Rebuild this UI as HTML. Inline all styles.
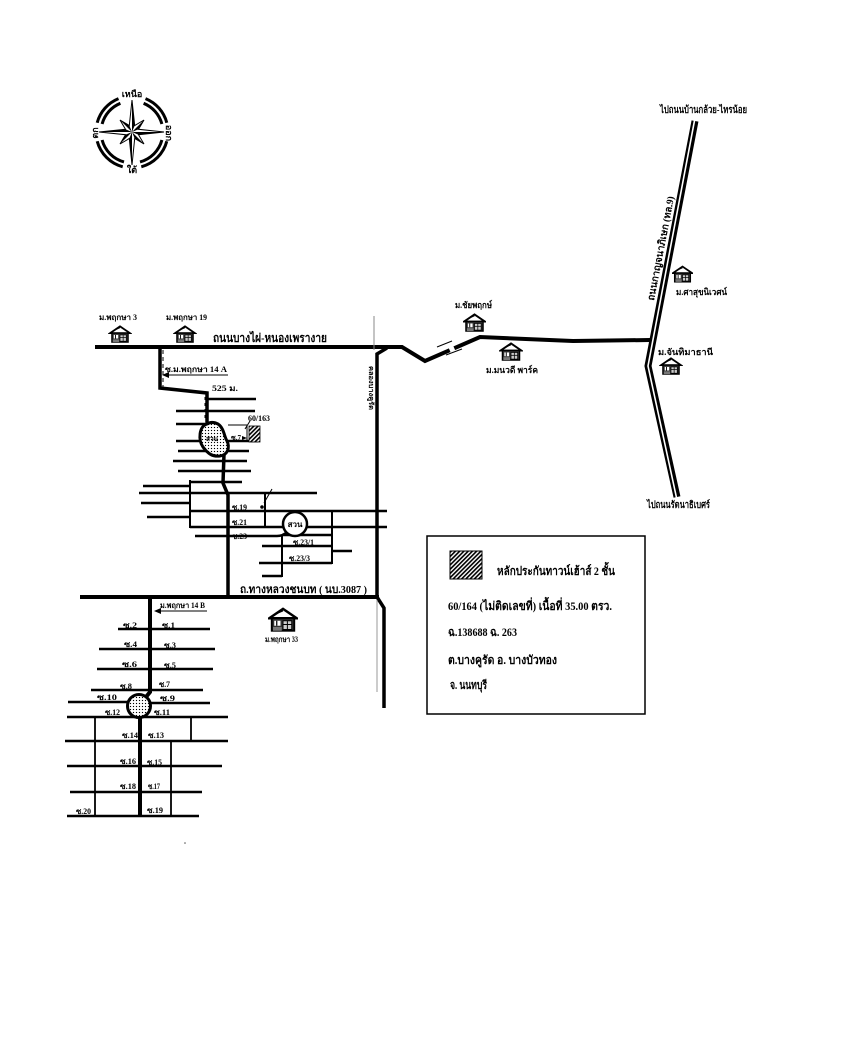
<!DOCTYPE html>
<html><head><meta charset="utf-8"><style>
html,body{margin:0;padding:0;background:#fff;}
svg{display:block;}
.t{font-family:"Liberation Serif","DejaVu Serif","Noto Serif CJK SC",serif;font-weight:bold;fill:#000;}
</style></head><body>
<svg width="850" height="1058" viewBox="0 0 850 1058" xmlns="http://www.w3.org/2000/svg">
<defs>
<pattern id="dots" width="3" height="3" patternUnits="userSpaceOnUse">
<rect width="3" height="3" fill="#fff"/><circle cx="1.5" cy="1.5" r="0.65" fill="#000"/>
</pattern>
<pattern id="hatch" width="3" height="3" patternUnits="userSpaceOnUse" patternTransform="rotate(45)">
<rect width="3" height="3" fill="#fff"/><rect width="1.6" height="3" fill="#000"/>
</pattern>
<symbol id="house" viewBox="0 0 24 20">
<polygon points="1,9 12,1.5 23,9" fill="#fff" stroke="#000" stroke-width="2"/>
<line x1="5" y1="6" x2="12" y2="3" stroke="#000" stroke-width="1"/>
<rect x="3" y="9" width="18" height="10" fill="#333" stroke="#000" stroke-width="1.5"/>
<rect x="5" y="11" width="5" height="4" fill="#fff"/>
<rect x="6.5" y="11" width="1" height="4" fill="#000"/>
<rect x="12" y="11" width="7" height="7" fill="#ccc" stroke="#000" stroke-width="0.8"/>
<line x1="12" y1="14" x2="19" y2="14" stroke="#000" stroke-width="0.8"/>
<line x1="15.5" y1="11" x2="15.5" y2="18" stroke="#000" stroke-width="0.8"/>
<rect x="4" y="16" width="7" height="3" fill="#777"/>
</symbol>
</defs>
<rect width="850" height="1058" fill="#fff"/>

<!-- Compass -->
<g fill="none" stroke="#000" stroke-width="3">
<path d="M145.5,98.6 A36,36 0 0 1 166.8,122.7"/>
<path d="M143.6,103.3 A31,31 0 0 1 161.9,124"/>
<path d="M166.8,141.3 A36,36 0 0 1 141.3,166.8"/>
<path d="M161.9,140 A31,31 0 0 1 140,161.9"/>
<path d="M122.7,166.8 A36,36 0 0 1 97.2,141.3"/>
<path d="M124,161.9 A31,31 0 0 1 102.1,140"/>
<path d="M97.2,122.7 A36,36 0 0 1 118.5,98.6"/>
<path d="M102.1,124 A31,31 0 0 1 120.4,103.3"/>
</g>
<polygon points="132,100 134.7,125.5 144,120 138.5,129.3 164,132 138.5,134.7 144,144 134.7,138.5 132,165 129.3,138.5 120,144 125.5,134.7 99,132 125.5,129.3 120,120 129.3,125.5" fill="#fff" stroke="#000" stroke-width="1"/>
<g fill="#000">
<polygon points="132,100 132,132 134.7,125.5"/>
<polygon points="164,132 132,132 138.5,134.7"/>
<polygon points="132,165 132,132 129.3,138.5"/>
<polygon points="99,132 132,132 125.5,129.3"/>
<polygon points="144,120 132,132 138.5,129.3"/>
<polygon points="144,144 132,132 134.7,138.5"/>
<polygon points="120,144 132,132 125.5,134.7"/>
<polygon points="120,120 132,132 129.3,125.5"/>
</g>
<text class="t" x="132" y="97" font-size="9" text-anchor="middle">เหนือ</text>
<text class="t" x="132" y="173" font-size="9" text-anchor="middle">ใต้</text>
<text class="t" font-size="9" text-anchor="middle" transform="translate(98,133) rotate(-90)">ตก</text>
<text class="t" font-size="9" text-anchor="middle" transform="translate(166,133) rotate(90)">ออก</text>

<!-- Main top road -->
<polyline points="95,347 402,347 425,361 480,337 573,341 650,340" fill="none" stroke="#000" stroke-width="4" stroke-linejoin="miter"/>
<rect x="448" y="340" width="5" height="12" fill="#fff" transform="rotate(-24 450 346)"/>
<line x1="437" y1="347" x2="452" y2="341" stroke="#000" stroke-width="1"/>
<line x1="446" y1="355" x2="462" y2="349" stroke="#000" stroke-width="1"/>
<text class="t" x="213" y="342" font-size="12" textLength="114" lengthAdjust="spacingAndGlyphs">ถนนบางไผ่-หนองเพรางาย</text>

<!-- Right double road -->
<polyline points="695,121 648,366 677,497" fill="none" stroke="#000" stroke-width="7" stroke-linejoin="miter"/>
<polyline points="695,118 648,366 677,500" fill="none" stroke="#fff" stroke-width="1.6" stroke-linejoin="miter"/>
<text class="t" x="660" y="113" font-size="10" textLength="87" lengthAdjust="spacingAndGlyphs">ไปถนนบ้านกล้วย-ไทรน้อย</text>
<text class="t" x="647" y="508" font-size="10" textLength="63" lengthAdjust="spacingAndGlyphs">ไปถนนรัตนาธิเบศร์</text>
<text class="t" font-size="10" text-anchor="middle" textLength="106" lengthAdjust="spacingAndGlyphs" transform="translate(664,249) rotate(-79)">ถนนกาญจนาภิเษก (ทล.9)</text>

<!-- Houses -->
<use href="#house" x="108" y="325" width="24" height="18"/>
<use href="#house" x="173" y="325" width="24" height="18"/>
<use href="#house" x="463" y="313" width="23" height="19"/>
<use href="#house" x="499" y="342" width="24" height="19"/>
<use href="#house" x="659" y="357" width="24" height="18"/>
<use href="#house" x="672" y="265" width="21" height="18"/>
<use href="#house" x="268" y="607" width="30" height="25"/>
<text class="t" x="99" y="320" font-size="8" textLength="38" lengthAdjust="spacingAndGlyphs">ม.พฤกษา 3</text>
<text class="t" x="166" y="320" font-size="8" textLength="41" lengthAdjust="spacingAndGlyphs">ม.พฤกษา 19</text>
<text class="t" x="455" y="308" font-size="9" textLength="37" lengthAdjust="spacingAndGlyphs">ม.ชัยพฤกษ์</text>
<text class="t" x="486" y="373" font-size="9" textLength="52" lengthAdjust="spacingAndGlyphs">ม.มนวดี พาร์ค</text>
<text class="t" x="658" y="355" font-size="9" textLength="55" lengthAdjust="spacingAndGlyphs">ม.จันทิมาธานี</text>
<text class="t" x="676" y="295" font-size="9" textLength="51" lengthAdjust="spacingAndGlyphs">ม.ศาสุขนิเวศน์</text>
<text class="t" x="265" y="642" font-size="8" textLength="33" lengthAdjust="spacingAndGlyphs">ม.พฤกษา 33</text>

<!-- Canal / vertical road -->
<line x1="374" y1="316" x2="374" y2="350" stroke="#888" stroke-width="1"/>
<polyline points="387,348 377,354 377,597 384,608 384,708" fill="none" stroke="#000" stroke-width="3.5"/>
<line x1="377" y1="600" x2="377" y2="692" stroke="#999" stroke-width="1"/>
<text class="t" font-size="7" text-anchor="middle" textLength="44" lengthAdjust="spacingAndGlyphs" transform="translate(369,388) rotate(90)">คลองบางคูรัด</text>

<!-- Top cluster -->
<g stroke="#000" stroke-width="2.5" fill="none">
<line x1="208" y1="399" x2="256" y2="399"/>
<line x1="176" y1="411" x2="255" y2="411"/>
<line x1="176" y1="424" x2="205" y2="424"/>
<line x1="176" y1="441" x2="258" y2="441"/>
<line x1="178" y1="451" x2="249" y2="451"/>
<line x1="173" y1="461" x2="247" y2="461"/>
<line x1="178" y1="471" x2="251" y2="471"/>
<line x1="190" y1="482" x2="242" y2="482"/>
<line x1="143" y1="486" x2="190" y2="486"/>
<line x1="139" y1="493" x2="317" y2="493"/>
<line x1="141" y1="503" x2="190" y2="503"/>
<line x1="190" y1="511" x2="387" y2="511"/>
<line x1="147" y1="517" x2="190" y2="517"/>
<line x1="190" y1="527" x2="283" y2="527"/>
<line x1="307" y1="527" x2="387" y2="527"/>
<path d="M195,536 L277,536 Q283,536 287,532"/>
<line x1="282" y1="535" x2="333" y2="535"/>
<line x1="262" y1="546" x2="332" y2="546"/>
<line x1="332" y1="551" x2="352" y2="551"/>
<line x1="259" y1="563" x2="332" y2="563"/>
<line x1="262" y1="576" x2="282" y2="576"/>
</g>
<g stroke="#000" stroke-width="2" fill="none">
<line x1="190" y1="480" x2="190" y2="528"/>
<line x1="265" y1="493" x2="265" y2="527"/>
<line x1="332" y1="511" x2="332" y2="564"/>
<line x1="282" y1="535" x2="282" y2="577"/>
</g>
<line x1="264" y1="503" x2="272" y2="489" stroke="#000" stroke-width="1"/>
<circle cx="262" cy="507" r="1.8" fill="#000"/>
<polyline points="160,347 160,388 207,393 207,426" fill="none" stroke="#000" stroke-width="3.5"/>
<polyline points="224,454 223,483 228,495 228,597" fill="none" stroke="#000" stroke-width="3.5"/>
<line x1="163" y1="350" x2="163" y2="388" stroke="#000" stroke-width="1" stroke-dasharray="4,3"/>
<line x1="165" y1="375" x2="228" y2="375" stroke="#000" stroke-width="1"/>
<polygon points="162,375 169,372 169,378" fill="#000"/>
<line x1="205" y1="397" x2="205" y2="418" stroke="#000" stroke-width="1" stroke-dasharray="3,3"/>
<line x1="228" y1="425" x2="247" y2="425" stroke="#000" stroke-width="1"/>
<line x1="247" y1="425" x2="247" y2="441" stroke="#000" stroke-width="1"/>
<line x1="250" y1="421" x2="245" y2="429" stroke="#000" stroke-width="1"/>
<rect x="249" y="426" width="11" height="16" fill="url(#hatch)" stroke="#000" stroke-width="0.8"/>
<path d="M207,424 C199,426 198,440 203,447 C208,454 213,457 220,456 C228,455 230,447 227,441 C224,436 224,428 218,424 C214,422 210,422 207,424 Z" fill="url(#dots)" stroke="#000" stroke-width="3"/>
<text class="t" x="206" y="441" font-size="6.5">สวน</text>
<text class="t" x="231" y="440" font-size="7">ซ.7</text>
<polygon points="247,438 242,436 242,440" fill="#000"/>
<text class="t" x="165" y="372" font-size="8" textLength="62" lengthAdjust="spacingAndGlyphs">ซ.ม.พฤกษา 14 A</text>
<text class="t" x="212" y="391" font-size="8" textLength="26" lengthAdjust="spacingAndGlyphs">525 ม.</text>
<text class="t" x="248" y="421" font-size="8" textLength="22" lengthAdjust="spacingAndGlyphs">60/163</text>
<circle cx="295" cy="524" r="12" fill="#fff" stroke="#000" stroke-width="2.5"/>
<text class="t" x="295" y="527" font-size="8" text-anchor="middle">สวน</text>
<text class="t" x="232" y="510" font-size="8" textLength="15" lengthAdjust="spacingAndGlyphs">ซ.19</text>
<text class="t" x="232" y="525" font-size="8" textLength="15" lengthAdjust="spacingAndGlyphs">ซ.21</text>
<text class="t" x="232" y="539" font-size="8" textLength="15" lengthAdjust="spacingAndGlyphs">ซ.23</text>
<text class="t" x="293" y="545" font-size="8" textLength="21" lengthAdjust="spacingAndGlyphs">ซ.23/1</text>
<text class="t" x="289" y="561" font-size="8" textLength="21" lengthAdjust="spacingAndGlyphs">ซ.23/3</text>

<!-- Bottom road -->
<line x1="80" y1="597" x2="379" y2="597" stroke="#000" stroke-width="4"/>
<text class="t" x="240" y="593" font-size="11" textLength="127" lengthAdjust="spacingAndGlyphs">ถ.ทางหลวงชนบท ( นบ.3087 )</text>

<!-- Bottom cluster -->
<g stroke="#000" stroke-width="2.5" fill="none">
<line x1="118" y1="629" x2="210" y2="629"/>
<line x1="99" y1="649" x2="215" y2="649"/>
<line x1="97" y1="669" x2="213" y2="669"/>
<line x1="91" y1="690" x2="203" y2="690"/>
<line x1="68" y1="702" x2="128" y2="702"/>
<line x1="150" y1="703" x2="210" y2="703"/>
<line x1="67" y1="717" x2="228" y2="717"/>
<line x1="65" y1="741" x2="228" y2="741"/>
<line x1="67" y1="766" x2="222" y2="766"/>
<line x1="70" y1="792" x2="202" y2="792"/>
<line x1="67" y1="816" x2="199" y2="816"/>
</g>
<g stroke="#000" stroke-width="1.8">
<line x1="95" y1="717" x2="95" y2="816"/>
<line x1="191" y1="717" x2="191" y2="741"/>
<line x1="171" y1="741" x2="171" y2="816"/>
</g>
<polyline points="150,597 150,692 146,697" fill="none" stroke="#000" stroke-width="4"/>
<line x1="140" y1="716" x2="140" y2="816" stroke="#000" stroke-width="4"/>
<circle cx="139" cy="706" r="11.5" fill="url(#dots)" stroke="#000" stroke-width="3"/>
<line x1="157" y1="611" x2="207" y2="611" stroke="#000" stroke-width="1"/>
<polygon points="154,611 161,608 161,614" fill="#000"/>
<text class="t" x="160" y="608" font-size="8" textLength="45" lengthAdjust="spacingAndGlyphs">ม.พฤกษา 14 B</text>
<g class="t" font-size="8">
<text x="123" y="628" textLength="14" lengthAdjust="spacingAndGlyphs">ซ.2</text>
<text x="162" y="628" textLength="13" lengthAdjust="spacingAndGlyphs">ซ.1</text>
<text x="124" y="647" textLength="13" lengthAdjust="spacingAndGlyphs">ซ.4</text>
<text x="164" y="648" textLength="12" lengthAdjust="spacingAndGlyphs">ซ.3</text>
<text x="122" y="667" textLength="15" lengthAdjust="spacingAndGlyphs">ซ.6</text>
<text x="164" y="668" textLength="12" lengthAdjust="spacingAndGlyphs">ซ.5</text>
<text x="120" y="689" textLength="12" lengthAdjust="spacingAndGlyphs">ซ.8</text>
<text x="159" y="687" textLength="11" lengthAdjust="spacingAndGlyphs">ซ.7</text>
<text x="97" y="700" textLength="20" lengthAdjust="spacingAndGlyphs">ซ.10</text>
<text x="160" y="701" textLength="15" lengthAdjust="spacingAndGlyphs">ซ.9</text>
<text x="105" y="715" textLength="15" lengthAdjust="spacingAndGlyphs">ซ.12</text>
<text x="154" y="715" textLength="16" lengthAdjust="spacingAndGlyphs">ซ.11</text>
<text x="122" y="738" textLength="16" lengthAdjust="spacingAndGlyphs">ซ.14</text>
<text x="148" y="738" textLength="16" lengthAdjust="spacingAndGlyphs">ซ.13</text>
<text x="120" y="764" textLength="16" lengthAdjust="spacingAndGlyphs">ซ.16</text>
<text x="147" y="765" textLength="15" lengthAdjust="spacingAndGlyphs">ซ.15</text>
<text x="120" y="789" textLength="16" lengthAdjust="spacingAndGlyphs">ซ.18</text>
<text x="148" y="789" textLength="12" lengthAdjust="spacingAndGlyphs">ซ.17</text>
<text x="76" y="814" textLength="15" lengthAdjust="spacingAndGlyphs">ซ.20</text>
<text x="147" y="813" textLength="16" lengthAdjust="spacingAndGlyphs">ซ.19</text>
</g>

<!-- Legend -->
<rect x="427" y="536" width="218" height="178" fill="#fff" stroke="#000" stroke-width="1.5"/>
<rect x="450" y="551" width="32" height="28" fill="url(#hatch)" stroke="#000" stroke-width="1"/>
<text class="t" x="497" y="575" font-size="12" textLength="118" lengthAdjust="spacingAndGlyphs">หลักประกันทาวน์เฮ้าส์ 2 ชั้น</text>
<text class="t" x="448" y="610" font-size="12" textLength="164" lengthAdjust="spacingAndGlyphs">60/164 (ไม่ติดเลขที่) เนื้อที่  35.00  ตรว.</text>
<text class="t" x="448" y="636" font-size="12" textLength="69" lengthAdjust="spacingAndGlyphs">ฉ.138688 ฉ. 263</text>
<text class="t" x="448" y="664" font-size="12" textLength="109" lengthAdjust="spacingAndGlyphs">ต.บางคูรัด  อ. บางบัวทอง</text>
<text class="t" x="450" y="689" font-size="12" textLength="37" lengthAdjust="spacingAndGlyphs">จ. นนทบุรี</text>

<circle cx="185" cy="843" r="0.8" fill="#555"/>
</svg>
</body></html>
